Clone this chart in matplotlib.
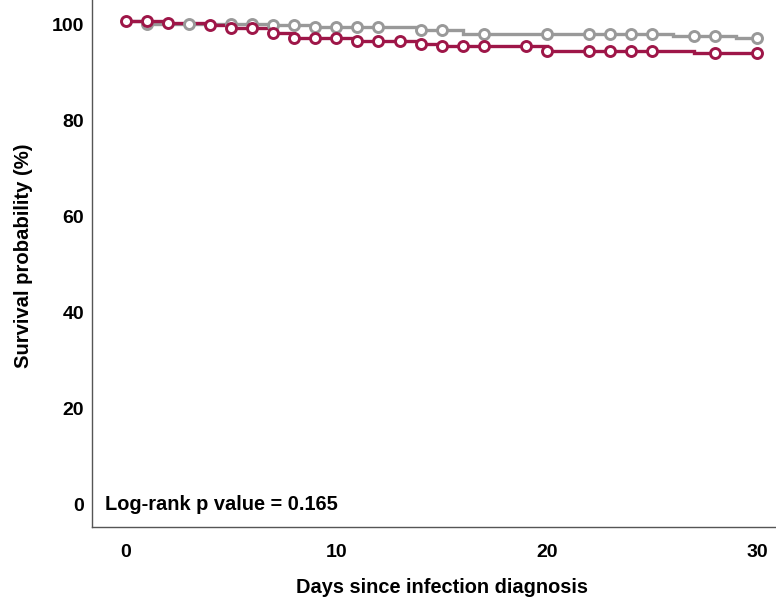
import numpy as np
import matplotlib
matplotlib.use("Agg")
import matplotlib.pyplot as plt
from matplotlib.transforms import ScaledTranslation

# Step curves (time of change, survival after change)
red_t = [0, 2, 4, 5, 7, 8, 11, 14, 15, 20, 27, 30]
red_s = [100, 99.46, 99.04, 98.44, 97.44, 96.3, 95.67, 95.2, 94.67, 93.75, 93.2, 93.2]
gray_t = [0, 1, 7, 9, 14, 16, 26, 29, 30]
gray_s = [100, 99.3, 99.1, 98.7, 98.0, 97.3, 96.9, 96.3, 96.3]

# Censoring marker times
red_marks = [0, 1, 2, 4, 5, 6, 7, 8, 9, 10, 11, 12, 13, 14, 15, 16, 17, 19, 20, 22, 23, 24, 25, 28, 30]
gray_marks = [1, 3, 5, 6, 7, 8, 9, 10, 11, 12, 14, 15, 17, 20, 22, 23, 24, 25, 27, 28, 30]

x_ticks = [0, 10, 20, 30]
y_ticks = [0, 20, 40, 60, 80, 100]
annotation = "Log-rank p value = 0.165"
xlabel = "Days since infection diagnosis"
ylabel = "Survival probability (%)"

RED = "#9E1648"
GRAY = "#999999"

plt.rcParams['font.family'] = ['Liberation Sans', 'DejaVu Sans']

fig = plt.figure(figsize=(7.76, 6.0), dpi=100)
ax = fig.add_axes([92/776, 1-527/600, 1-92/776, 527/600])


def lookup(ts, ss, marks):
    ts = np.asarray(ts); ss = np.asarray(ss)
    idx = np.searchsorted(ts, np.asarray(marks), side='right') - 1
    return ss[idx]

lw = 2.4
ax.step(gray_t, gray_s, where='post', color=GRAY, lw=lw, zorder=2, solid_joinstyle='miter')
ax.step(red_t, red_s, where='post', color=RED, lw=lw, zorder=3, solid_joinstyle='miter')
ax.plot(gray_marks, lookup(gray_t, gray_s, gray_marks), 'o', ms=7.2, mfc='white',
        mec=GRAY, mew=2.1, zorder=4, ls='none')
ax.plot(red_marks, lookup(red_t, red_s, red_marks), 'o', ms=7.2, mfc='white',
        mec=RED, mew=2.1, zorder=5, ls='none')

ax.set_xlim(-1.62, 30.9)
ax.set_ylim(-5.5, 104.3)
ax.set_xticks(x_ticks)
ax.set_yticks(y_ticks)
ax.tick_params(axis='both', length=0, labelsize=14)
ax.tick_params(axis='y', pad=5.5)
ax.tick_params(axis='x', pad=12.5)
for lab in ax.get_xticklabels() + ax.get_yticklabels():
    lab.set_fontweight('bold')
offset = ScaledTranslation(0, -4/100, fig.dpi_scale_trans)
for lab in ax.get_yticklabels():
    lab.set_transform(lab.get_transform() + offset)

for s in ['top', 'right']:
    ax.spines[s].set_visible(False)
for s in ['left', 'bottom']:
    ax.spines[s].set_color('#555555')
    ax.spines[s].set_linewidth(1.0)

ax.set_xlabel(xlabel, fontsize=14.4, fontweight='bold')
ax.xaxis.set_label_coords(0.512, -0.097)
ax.set_ylabel(ylabel, fontsize=14.6, fontweight='bold')
ax.yaxis.set_label_coords(-0.086, 0.515)

ax.text(-1.0, 0, annotation, transform=ax.transData + offset, fontsize=14.4,
        fontweight='bold', va='center', ha='left')

fig.savefig("out.png", dpi=100)
